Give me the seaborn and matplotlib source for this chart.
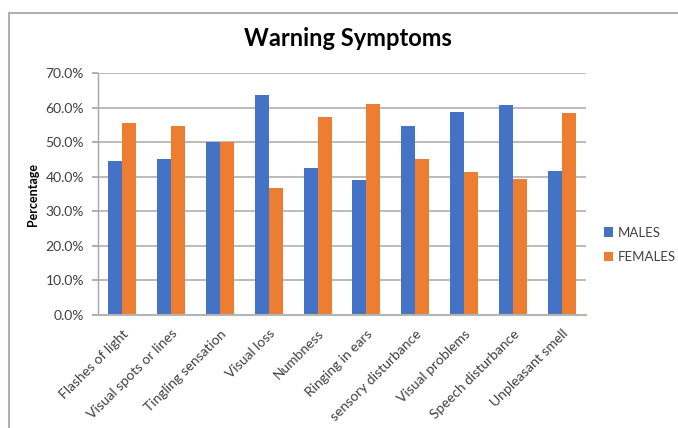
import matplotlib
matplotlib.use("Agg")
import matplotlib.pyplot as plt
from matplotlib.patches import Rectangle
from matplotlib.ticker import PercentFormatter, MultipleLocator
import seaborn as sns
import pandas as pd

categories = [
    "Flashes of light", "Visual spots or lines", "Tingling sensation",
    "Visual loss", "Numbness", "Ringing in ears", "sensory disturbance",
    "Visual problems", "Speech disturbance", "Unpleasant smell",
]
males = [44.5, 45.1, 50.0, 63.5, 42.6, 39.1, 54.7, 58.7, 60.6, 41.7]
females = [55.6, 54.7, 50.0, 36.6, 57.4, 60.9, 45.2, 41.3, 39.4, 58.4]
series_names = ["MALES", "FEMALES"]
colors = ["#4472C4", "#ED7D31"]

df = pd.DataFrame({
    "Symptom": categories * 2,
    "Percentage": males + females,
    "Sex": [series_names[0]] * len(categories) + [series_names[1]] * len(categories),
})

sns.set_theme(style="white")
plt.rcParams["font.family"] = ["Lato", "DejaVu Sans"]

fig = plt.figure(figsize=(6.78, 4.28), dpi=100)
ax = fig.add_axes([98 / 678, 1 - 315 / 428, 488 / 678, 242 / 428])

sns.barplot(data=df, x="Symptom", y="Percentage", hue="Sex",
            palette=colors, width=0.57, ax=ax, saturation=1,
            linewidth=0, legend=True)

ax.set_ylim(0, 70)
ax.yaxis.set_major_locator(MultipleLocator(10))
ax.yaxis.set_major_formatter(PercentFormatter(decimals=1))
ax.set_xlim(-0.5, len(categories) - 0.5)

ax.grid(axis="y", color="#b5b5b5", linewidth=1.3)
ax.set_axisbelow(True)
for side in ["top", "right"]:
    ax.spines[side].set_visible(False)
ax.spines["left"].set_color("#a6a6a6")
ax.spines["bottom"].set_color("#b5b5b5")
ax.spines["left"].set_linewidth(1.0)
ax.spines["bottom"].set_linewidth(1.5)

ax.tick_params(axis="y", which="major", length=4, color="#a6a6a6",
               labelsize=10, labelcolor="#404040", pad=6, left=True)
ax.tick_params(axis="x", length=0, labelsize=10, labelcolor="#404040", pad=9)
plt.setp(ax.get_xticklabels(), rotation=45, ha="right", rotation_mode="anchor")

ax.set_xlabel("")
ax.set_ylabel("Percentage", fontsize=9, fontweight="bold", color="black", labelpad=5)

fig.text(348 / 678, 1 - 39 / 428, "Warning Symptoms", ha="center", va="center",
         fontsize=17, fontweight="bold", color="black")

handles, labels = ax.get_legend_handles_labels()
ax.legend(handles, labels, loc="center left", bbox_to_anchor=(1.012, 0.29),
          frameon=False, fontsize=9.5, labelcolor="#404040",
          handlelength=0.7, handleheight=0.7, handletextpad=0.4,
          labelspacing=0.95)

fig.patches.append(Rectangle((8.5 / 678, -0.1), 1.2, 1.1 - 12.5 / 428,
                             transform=fig.transFigure, fill=False,
                             edgecolor="#b0b0b0", linewidth=1.5, zorder=0))

fig.savefig("out.png", dpi=100)
